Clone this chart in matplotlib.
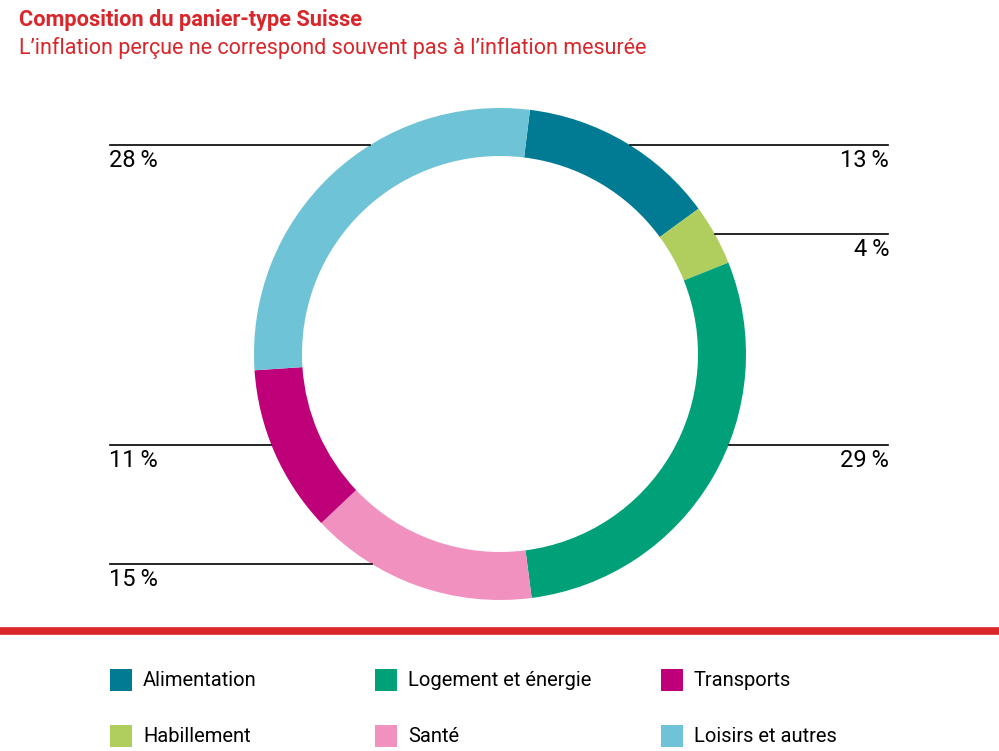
import numpy as np
import matplotlib
matplotlib.use('Agg')
import matplotlib.pyplot as plt
from matplotlib.patches import Rectangle

plt.rcParams['font.family'] = ['Roboto', 'DejaVu Sans']

# données du panier-type (en %)
categories = ['Alimentation', 'Habillement', 'Logement et énergie',
              'Santé', 'Transports', 'Loisirs et autres']
parts = [13, 4, 29, 15, 11, 28]
colors = ['#007b93', '#afce5e', '#00a078', '#f091bf', '#be0079', '#6fc3d6']

# étiquettes : côté et hauteur de la ligne (px)
label_side = ['right', 'right', 'right', 'left', 'left', 'left']
label_y = [145, 234, 445, 564, 445, 145]

red = '#d9262b'
cx, cy = 500, 354
R, ring = 246, 48

fig = plt.figure(figsize=(9.99, 7.51), dpi=100)
ax = fig.add_axes([0, 0, 1, 1])

ax.pie(parts, colors=colors, radius=R, center=(cx, cy), startangle=277,
       counterclock=True, wedgeprops=dict(width=ring, linewidth=0))

ax.set_xlim(0, 999)
ax.set_ylim(751, 0)
ax.set_aspect('equal')
ax.axis('off')

# lignes de rappel + pourcentages
for val, side, y in zip(parts, label_side, label_y):
    dx = np.sqrt(R**2 - (y - cy)**2)
    if side == 'left':
        ax.plot([110, cx - dx], [y, y], color='black', lw=1.2)
        ax.text(109, y + 4, f'{val}\u2009%', ha='left', va='top', fontsize=17)
    else:
        ax.plot([cx + dx, 888], [y, y], color='black', lw=1.2)
        ax.text(889, y + 4, f'{val}\u2009%', ha='right', va='top', fontsize=17)

# titres
fig.text(19 / 999, 1 - 9 / 751, 'Composition du panier-type Suisse', color=red,
         fontsize=15.7, fontweight='bold', ha='left', va='top')
fig.text(19 / 999, 1 - 37 / 751, 'L\u2019inflation perçue ne correspond souvent pas à l\u2019inflation mesurée',
         color=red, fontsize=15.5, ha='left', va='top')

# barre rouge
ax.plot([0, 999], [631, 631], color=red, lw=5.5, solid_capstyle='butt')

# légende
leg_x = [110, 375, 661]
leg_y = [680, 736]
for i, (name, col) in enumerate(zip(categories, colors)):
    x = leg_x[i // 2]
    y = leg_y[i % 2]
    ax.add_patch(Rectangle((x, y - 11), 22, 22, color=col, lw=0))
    ax.text(x + 33, y + 1, name, ha='left', va='center', fontsize=14.5)

fig.savefig('out.png', dpi=100)
